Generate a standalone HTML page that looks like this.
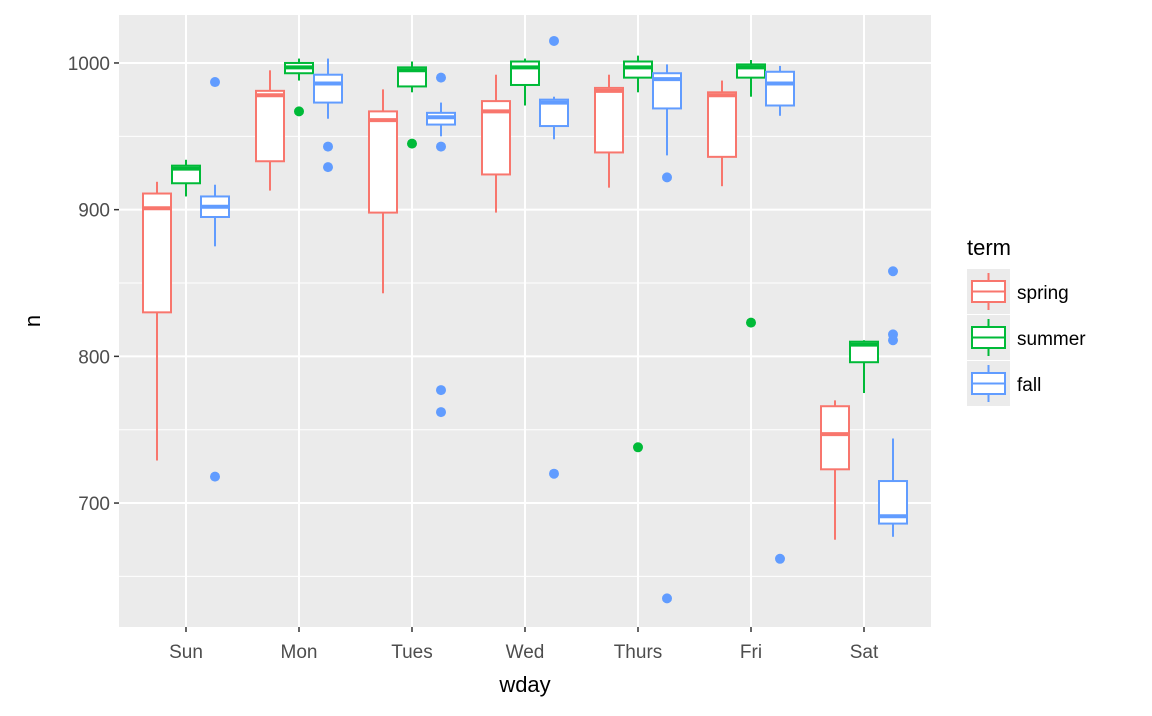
<!DOCTYPE html>
<html><head><meta charset="utf-8"><style>
body{margin:0;background:#fff;font-family:"Liberation Sans",sans-serif}
</style></head><body>
<svg id="chart" width="1152" height="711" xmlns="http://www.w3.org/2000/svg" font-family="Liberation Sans, sans-serif"></svg>
<script>
const categories=["Sun","Mon","Tues","Wed","Thurs","Fri","Sat"];
const terms=["spring","summer","fall"];
const colors=["#F8766D","#00BA38","#619CFF"];
// [lower, q1, median, q3, upper] per term per day
const springStats=[[729,830,901,911,919],[913,933,978,981,995],[843,898,961,967,982],[898,924,967,974,992],[915,939,981,983,992],[916,936,978,980,988],[675,723,747,766,770]];
const summerStats=[[909,918,928,930,934],[988,993,997,1000,1003],[980,984,995,997,1001],[971,985,997,1001,1003],[980,990,997,1001,1005],[977,990,997,999,1002],[775,796,808,810,811]];
const fallStats=[[875,895,902,909,917],[962,973,986,992,1003],[950,958,963,966,973],[948,957,973,975,977],[937,969,989,993,999],[964,971,986,994,998],[677,686,691,715,744]];
const springOutliers=[[],[],[],[],[],[],[]];
const summerOutliers=[[],[967],[945],[],[738],[823],[]];
const fallOutliers=[[987,718],[943,929],[990,943,777,762],[1015,720],[922,635],[662],[858,815,811]];
const yMajor=[700,800,900,1000];
const yMinor=[650,750,850,950];

const svg=document.getElementById('chart');
const NS="http://www.w3.org/2000/svg";
const PL=119,PR=931,PT=15,PB=627;
const yMin=615.5,yMax=1032.7;
const y=v=>PB-(v-yMin)/(yMax-yMin)*(PB-PT);
const x=i=>186+i*113;
function el(t,a,p){const e=document.createElementNS(NS,t);for(const k in a)e.setAttribute(k,a[k]);(p||svg).appendChild(e);return e;}

const panel=el('rect',{x:PL,y:PT,width:PR-PL,height:PB-PT,fill:'#EBEBEB'});


yMinor.forEach(v=>{const l=el('line',{x1:PL,x2:PR,y1:y(v),y2:y(v),stroke:'#fff','stroke-width':1});

});
yMajor.forEach(v=>{const l=el('line',{x1:PL,x2:PR,y1:y(v),y2:y(v),stroke:'#fff','stroke-width':2});


const t=el('text',{x:PL-9,y:y(v)+7,'text-anchor':'end','font-size':19,fill:'#4D4D4D'});t.textContent=v;


el('line',{x1:PL-5,x2:PL,y1:y(v),y2:y(v),stroke:'#333','stroke-width':1.5});});
categories.forEach((c,i)=>{const l=el('line',{x1:x(i),x2:x(i),y1:PT,y2:PB,stroke:'#fff','stroke-width':2});


el('line',{x1:x(i),x2:x(i),y1:PB,y2:PB+5,stroke:'#333','stroke-width':1.5});
const t=el('text',{x:x(i),y:PB+31,'text-anchor':'middle','font-size':19,fill:'#4D4D4D'});t.textContent=c;

});

const allStats=[springStats,summerStats,fallStats];
const allOut=[springOutliers,summerOutliers,fallOutliers];
const bw=28;
categories.forEach((c,i)=>{
 terms.forEach((tm,j)=>{
  const s=allStats[j][i];const cx=x(i)+(j-1)*29;const col=colors[j];
  const g=el('g',{});
  
  
  el('line',{x1:cx,x2:cx,y1:y(s[4]),y2:y(s[3]),stroke:col,'stroke-width':2},g);
  el('line',{x1:cx,x2:cx,y1:y(s[1]),y2:y(s[0]),stroke:col,'stroke-width':2},g);
  el('rect',{x:cx-bw/2,y:y(s[3]),width:bw,height:Math.max(0,y(s[1])-y(s[3])),fill:'#fff',stroke:col,'stroke-width':2},g);
  el('line',{x1:cx-bw/2,x2:cx+bw/2,y1:y(s[2]),y2:y(s[2]),stroke:col,'stroke-width':4},g);
  allOut[j][i].forEach(v=>{const p=el('circle',{cx:cx,cy:y(v),r:5,fill:col},g);
   
   });
 });
});

const yt=el('text',{x:40,y:321,'text-anchor':'middle','font-size':22,fill:'#000',transform:'rotate(-90 40 321)'});yt.textContent='n';


const xt=el('text',{x:525,y:692,'text-anchor':'middle','font-size':22,fill:'#000'});xt.textContent='wday';



const lg=el('g',{});


const lt=el('text',{x:967,y:255,'font-size':22,fill:'#000'},lg);lt.textContent='term';


terms.forEach((tm,j)=>{
 const ky=269+j*46;const col=colors[j];
 const g=el('g',{},lg);
 
 
 el('rect',{x:967,y:ky,width:43,height:45,fill:'#EBEBEB'},g);
 el('line',{x1:988.5,x2:988.5,y1:ky+4,y2:ky+41,stroke:col,'stroke-width':2},g);
 el('rect',{x:972,y:ky+12,width:33,height:21,fill:'#fff',stroke:col,'stroke-width':2},g);
 el('line',{x1:972,x2:1005,y1:ky+22.5,y2:ky+22.5,stroke:col,'stroke-width':2},g);
 const t=el('text',{x:1017,y:ky+30,'font-size':19,fill:'#000'},g);t.textContent=tm;
});
</script>
</body></html>
